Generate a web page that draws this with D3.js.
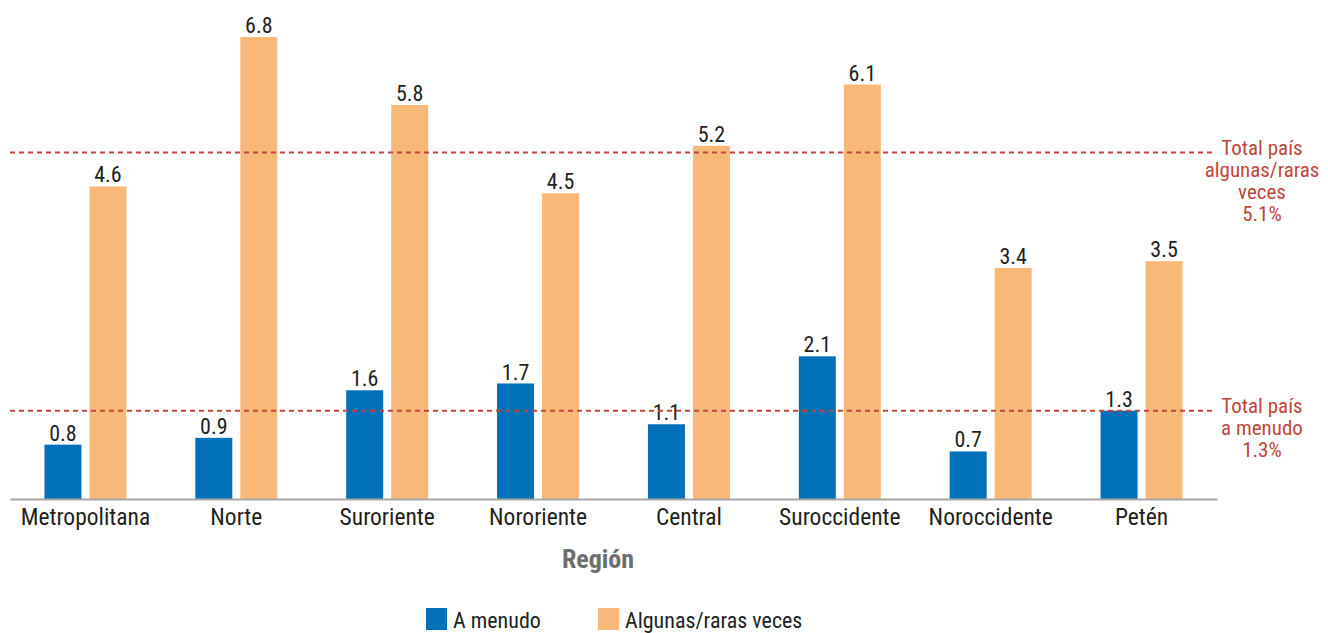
<!DOCTYPE html>
<html><head><meta charset="utf-8">
<script src="https://cdn.jsdelivr.net/npm/d3@7"></script>
<style>body{margin:0;background:#fff;} svg{display:block;}</style>
</head><body>
<svg id="c" width="1328" height="633"></svg>
<script>
const categories = ["Metropolitana","Norte","Suroriente","Nororiente","Central","Suroccidente","Noroccidente","Petén"];
const aMenudo = [0.8,0.9,1.6,1.7,1.1,2.1,0.7,1.3];
const algunas = [4.6,6.8,5.8,4.5,5.2,6.1,3.4,3.5];
const seriesNames = ["A menudo","Algunas/raras veces"];
const totals = [{v:5.1, lines:["Total país","algunas/raras","veces","5.1%"]},{v:1.3, lines:["Total país","a menudo","1.3%"]}];

const colors = ["#0070b8","#f8b878"];
const font = "'Liberation Sans Narrow','Roboto Condensed','Arial Narrow',Roboto,sans-serif";
const svg = d3.select("#c");
const x = d3.scaleBand().domain(categories).range([10,1217]);
const y = d3.scaleLinear().domain([0,6.8]).range([499,37]);
const bw = 37, gap = 8;

const data = categories.map((c,i)=>({c, vals:[aMenudo[i], algunas[i]]}));
const g = svg.append("g");
data.forEach(d=>{
  const cx = x(d.c) + x.bandwidth()/2;
  d.vals.forEach((v,k)=>{
    const x0 = k===0 ? cx - gap/2 - bw : cx + gap/2;
    g.append("rect").attr("x",x0).attr("y",y(v)).attr("width",bw).attr("height",y(0)-y(v)).attr("fill",colors[k]);
    g.append("text").attr("x",x0+bw/2).attr("y",y(v)-4).attr("text-anchor","middle")
      .attr("font-family",font).attr("font-size",22).attr("fill","#231f20").text(v.toFixed(1));
  });
});

// axis
const ax = svg.append("g").attr("transform","translate(0,499)").call(d3.axisBottom(x).tickSize(0).tickPadding(9));
ax.select(".domain").attr("stroke","#a6a6a6").attr("stroke-width",2);
ax.selectAll("text").attr("font-family",font).attr("font-size",23.5).attr("fill","#231f20");

svg.append("text").attr("x",598).attr("y",568).attr("text-anchor","middle").attr("font-family",font)
  .attr("font-weight","bold").attr("font-size",26).attr("fill","#6d6e70").text("Región");

// total lines
totals.forEach(t=>{
  const yy = y(t.v);
  svg.append("line").attr("x1",10).attr("x2",1212).attr("y1",yy).attr("y2",yy)
    .attr("stroke","#c0463c").attr("stroke-width",2).attr("stroke-dasharray","5,4");
  t.lines.forEach((l,i)=>{
    svg.append("text").attr("x",1262).attr("y",yy + 2 + i*22).attr("text-anchor","middle")
      .attr("font-family",font).attr("font-size",21).attr("fill","#c0463c").text(l);
  });
});

// legend
const leg = [{x:426, t:seriesNames[0]},{x:598, t:seriesNames[1]}];
leg.forEach((l,k)=>{
  svg.append("rect").attr("x",l.x).attr("y",608).attr("width",21).attr("height",22).attr("fill",colors[k]);
  svg.append("text").attr("x",l.x+27).attr("y",628).attr("font-family",font).attr("font-size",22).attr("fill","#231f20").text(l.t);
});
</script>
</body></html>
